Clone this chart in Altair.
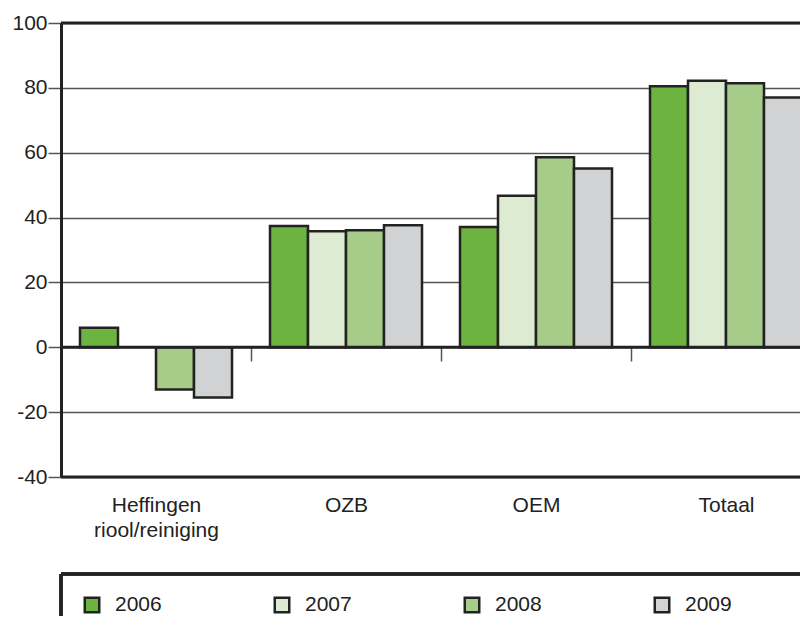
import altair as alt
import pandas as pd

categories = ["Heffingen|riool/reiniging", "OZB", "OEM", "Totaal"]
years = ["2006", "2007", "2008", "2009"]
v2006 = [6.0, 37.4, 37.1, 80.5]
v2007 = [None, 35.8, 46.7, 82.2]
v2008 = [-13.0, 36.1, 58.6, 81.4]
v2009 = [-15.5, 37.6, 55.1, 77.0]
colors = ["#6cb33f", "#deebd3", "#a7cc89", "#d1d2d4"]
y_ticks = [-40, -20, 0, 20, 40, 60, 80, 100]

rows = []
for yr, vals in zip(years, [v2006, v2007, v2008, v2009]):
    for c, v in zip(categories, vals):
        if v is not None:
            rows.append({"cat": c, "year": yr, "value": v})
df = pd.DataFrame(rows)
leg_df = pd.DataFrame({"year": years})

color_scale = alt.Scale(domain=years, range=colors)
FONT = "Liberation Sans"
INK = "#222"
FS = 21

y_enc = alt.Y(
    "value:Q", scale=alt.Scale(domain=[-40, 100], nice=False),
    axis=alt.Axis(
        values=y_ticks, title=None, grid=True, gridColor="#555", gridWidth=1.5,
        domain=True, domainColor=INK, domainWidth=3,
        tickSize=13, tickColor="#555", tickWidth=1.5,
        labelPadding=1, labelFontSize=FS, labelColor=INK, labelFont=FONT,
        labelExpr="'' + datum.value",
    ),
)

bars = alt.Chart(df).mark_bar(stroke=INK, strokeWidth=2.5).encode(
    x=alt.X(
        "cat:N", sort=categories,
        scale=alt.Scale(paddingInner=0, paddingOuter=0, range=[0, 760]),
        axis=alt.Axis(
            title=None, labelAngle=0, offset=-130, domain=False, grid=False,
            tickBand="extent", tickSize=14, tickColor="#555", tickWidth=1.5,
            labelPadding=133, labelFontSize=FS, labelColor=INK,
            labelLineHeight=25, labelExpr="split(datum.label, '|')",
            labelBaseline="top", labelFont=FONT,
        ),
    ),
    xOffset=alt.XOffset("year:N", sort=years,
                        scale=alt.Scale(paddingOuter=0.5, paddingInner=0)),
    y=y_enc,
    color=alt.Color("year:N", scale=color_scale, legend=None),
)

frame_y = alt.Chart(pd.DataFrame({"v": [-40, 0, 100]})).mark_rule(
    color=INK, strokeWidth=3
).encode(y=alt.Y("v:Q"))

# legend (drawn below the plot, open box like the reference)
leg_x = alt.X("year:N", sort=years,
              scale=alt.Scale(paddingInner=0, paddingOuter=0, range=[0, 760]),
              axis=None)
sym = alt.Chart(leg_df).mark_square(
    size=210, opacity=1, filled=True, stroke=INK, strokeWidth=2.5, xOffset=-64
).encode(
    x=leg_x,
    color=alt.Color("year:N", scale=color_scale, legend=None),
    y=alt.value(582),
)
txt = alt.Chart(leg_df).mark_text(
    align="left", baseline="middle", fontSize=FS, color=INK, dx=-41, font=FONT
).encode(x=leg_x, text="year:N", y=alt.value(582))
box_top = alt.Chart(leg_df).mark_rule(color=INK, strokeWidth=3).encode(
    x=alt.value(0), x2=alt.value(760), y=alt.value(551)
)
box_left = alt.Chart(leg_df).mark_rule(color=INK, strokeWidth=3).encode(
    x=alt.value(0), y=alt.value(551), y2=alt.value(640)
)

chart = alt.layer(
    bars, frame_y, sym, txt, box_top, box_left
).resolve_scale(x="independent").properties(
    width=739, height=454,
    autosize=alt.AutoSizeParams(type="none"),
    padding={"left": 53, "top": 15, "right": 0, "bottom": 139},
).configure_view(stroke=None).configure(font=FONT)

chart.save("out.html", embed_options={"renderer": "svg", "actions": False})
